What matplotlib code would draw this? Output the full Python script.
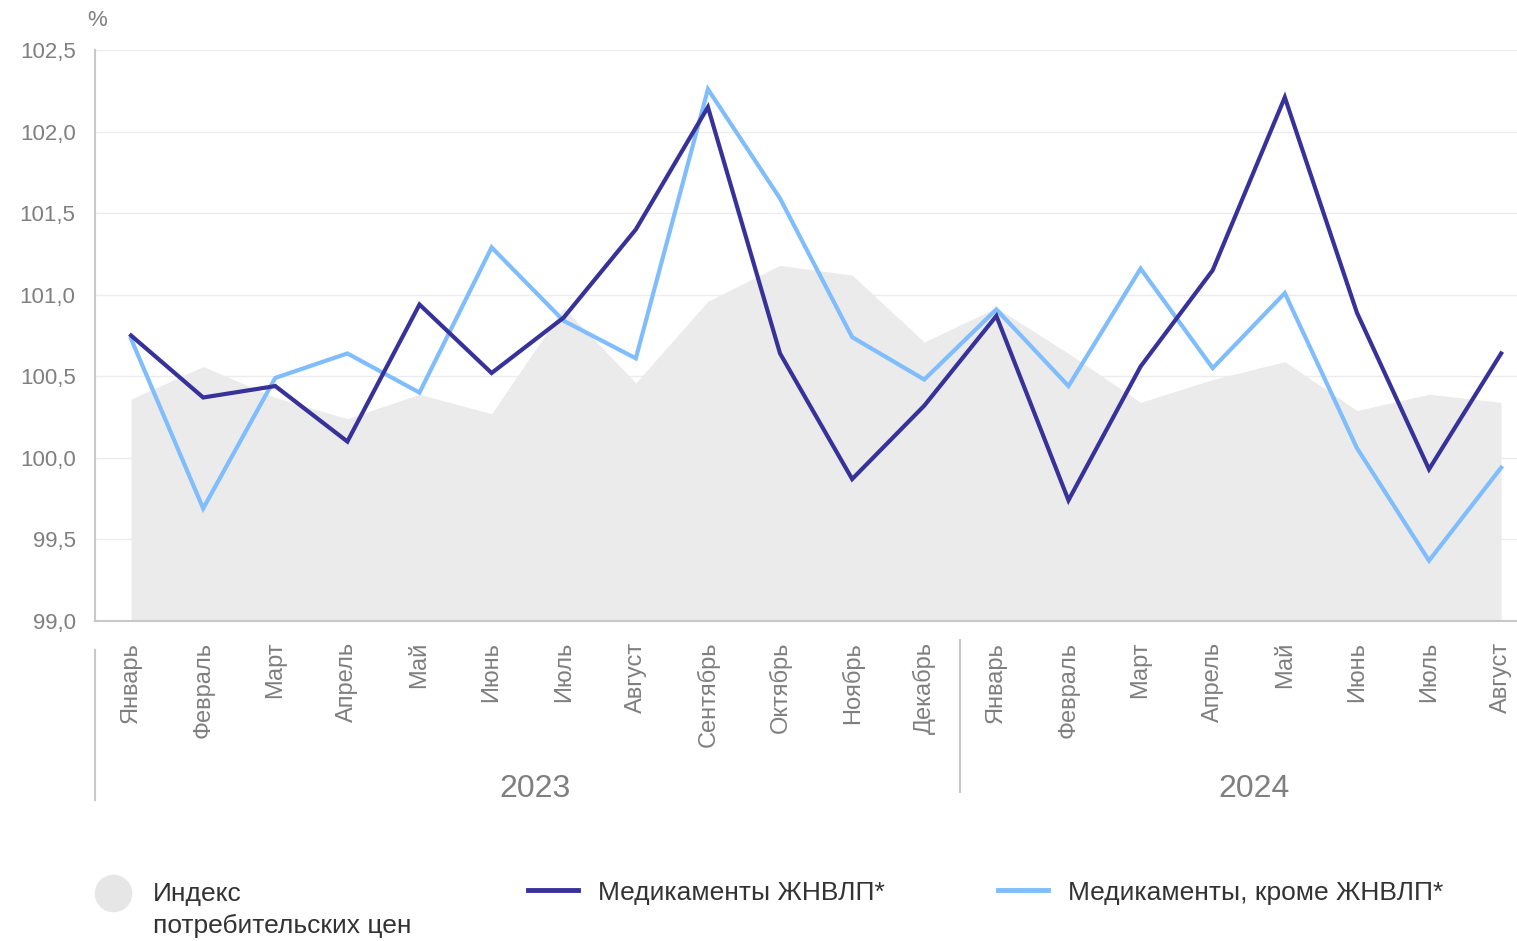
"""Цены на медикаменты и ИПЦ, 2023-2024 (мес. к пред. месяцу, %)."""
import matplotlib.pyplot as plt
from matplotlib.lines import Line2D

plt.rcParams.update({
    "font.family": ["Liberation Sans", "DejaVu Sans"],
    "font.size": 16,
    "figure.dpi": 100,
})

MONTHS = ["Январь", "Февраль", "Март", "Апрель", "Май", "Июнь", "Июль", "Август",
          "Сентябрь", "Октябрь", "Ноябрь", "Декабрь",
          "Январь", "Февраль", "Март", "Апрель", "Май", "Июнь", "Июль", "Август"]
YEARS = ["2023", "2024"]

cpi = [100.36, 100.56, 100.37, 100.24, 100.39, 100.27, 100.92, 100.46, 100.96, 101.18,
       101.12, 100.71, 100.92, 100.64, 100.34, 100.48, 100.59, 100.29, 100.39, 100.34]
vital = [100.75, 100.37, 100.44, 100.10, 100.94, 100.52, 100.86, 101.40, 102.15, 100.64,
         99.87, 100.32, 100.87, 99.74, 100.56, 101.15, 102.21, 100.89, 99.93, 100.64]
other = [100.73, 99.69, 100.49, 100.64, 100.40, 101.29, 100.84, 100.61, 102.26, 101.59,
         100.74, 100.48, 100.91, 100.44, 101.16, 100.55, 101.01, 100.06, 99.37, 99.94]

DARK = "#37329a"
LIGHT = "#80bdfc"
AREA = "#ebebeb"
GREY = "#7f7f7f"
TEXT = "#333333"

fig = plt.figure(figsize=(15.17, 9.41))
ax = fig.add_axes([95 / 1517, 1 - 621 / 941, 1 - 95 / 1517, 571 / 941])

x = list(range(len(MONTHS)))
ax.fill_between(x, 99.0, cpi, color=AREA, lw=0, zorder=1)
ax.plot(x, vital, color=DARK, lw=3, zorder=3, solid_joinstyle="miter")
ax.plot(x, other, color=LIGHT, lw=3, zorder=2, solid_joinstyle="miter")

ax.set_ylim(99.0, 102.5)
ax.set_xlim(-0.5, 19.22)
yt = [99.0, 99.5, 100.0, 100.5, 101.0, 101.5, 102.0, 102.5]
ax.set_yticks(yt)
ax.set_yticklabels([f"{v:.1f}".replace(".", ",") for v in yt], color=GREY, fontsize=16)
ax.set_xticks(x)
ax.set_xticklabels(MONTHS, rotation=90, va="top", color=GREY, fontsize=17)
ax.tick_params(axis="y", length=0, pad=14)
ax.tick_params(axis="x", length=0, pad=15)
ax.grid(axis="y", color="#ececec", lw=1, zorder=0)
ax.set_axisbelow(True)
for s in ["top", "right"]:
    ax.spines[s].set_visible(False)
ax.spines["left"].set_color("#c8c8c8")
ax.spines["left"].set_linewidth(1.5)
ax.spines["bottom"].set_color("#c8c8c8")
ax.spines["bottom"].set_linewidth(1.5)

ax.text(0.0015, 1.052, "%", transform=ax.transAxes, color=GREY,
        fontsize=16, ha="center", va="center")

# year separators and labels under the month ticks
trans = ax.get_xaxis_transform()
ax.add_line(Line2D([-0.5, -0.5], [-0.051, -0.313], transform=trans, color="#c8c8c8",
                   lw=1.5, clip_on=False))
ax.add_line(Line2D([11.5, 11.5], [-0.033, -0.30], transform=trans, color="#c8c8c8",
                   lw=1.5, clip_on=False))
ax.text(5.6, -0.295, YEARS[0], transform=trans, ha="center", va="center",
        color=GREY, fontsize=23)
ax.text(15.57, -0.295, YEARS[1], transform=trans, ha="center", va="center",
        color=GREY, fontsize=23)

# legend drawn by hand at the bottom
W, H = 1517, 941
fig.add_artist(Line2D([113 / W], [1 - 893 / H], marker="o", ms=26, color="#e6e6e6",
                      transform=fig.transFigure))
fig.text(153 / W, 1 - 894 / H, "Индекс", color=TEXT, fontsize=19, va="center")
fig.text(153 / W, 1 - 926 / H, "потребительских цен", color=TEXT, fontsize=19, va="center")
fig.add_artist(Line2D([528 / W, 578 / W], [1 - 890 / H] * 2, color=DARK, lw=3.5,
                      transform=fig.transFigure))
fig.text(598 / W, 1 - 893 / H, "Медикаменты ЖНВЛП*", color=TEXT, fontsize=19, va="center")
fig.add_artist(Line2D([998 / W, 1048 / W], [1 - 890 / H] * 2, color=LIGHT, lw=3.5,
                      transform=fig.transFigure))
fig.text(1068 / W, 1 - 893 / H, "Медикаменты, кроме ЖНВЛП*", color=TEXT, fontsize=19,
         va="center")

fig.savefig("out.png", dpi=100)
